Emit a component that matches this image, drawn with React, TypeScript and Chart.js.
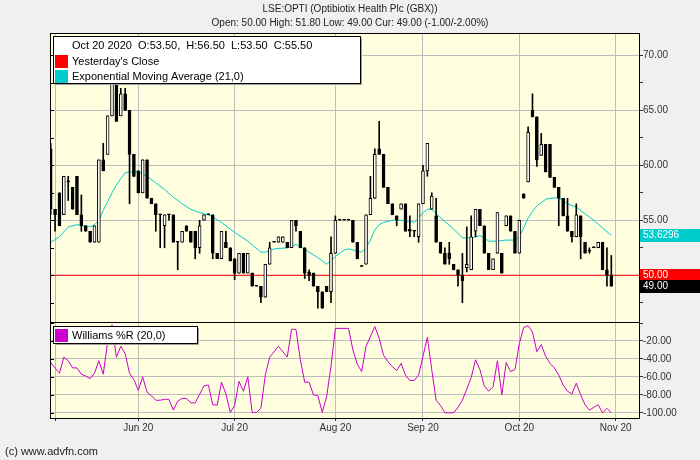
import React, { useEffect, useRef } from "react";
import { Chart, registerables } from "chart.js";

Chart.register(...registerables);

// ---------- DATA ----------
// candle index 0 = 30 Apr 2020 ... 128 = 30 Oct 2020 (trading days)
const opens = [
  61.5, 56, 57.5, 55.5, 58.5, 58, 59, 55.5, 54.5, 54, 53, 53, 60.5, 61, 64.5, 67.5, 64.5, 66.5, 65, 61,
  59.5, 57.5, 60.5, 57, 56.5, 55.5, 54.5, 55.5, 55.5, 53, 53, 54.5, 54, 54, 52.5, 55, 55.5, 55.5, 52, 51.5,
  53, 52.5, 51.5, 50.2, 52, 50.2, 50.2, 49, 49, 48, 51, 53, 53, 53, 53, 52.5, 55, 54, 52.5, 50.3,
  50.2, 49, 48.5, 49, 48.5, 52, 55, 55, 55, 55, 53, 50.8, 51, 55.5, 57, 61.5, 61, 58, 56.5, 55.4,
  56, 56.5, 54.2, 54, 53.5, 56.5, 59.5, 56, 55.4, 53, 52, 52, 51, 50.5, 50, 50.7, 50.5, 54, 56, 54.5,
  52, 50.5, 52, 52, 54.5, 55.4, 54, 52, 57.4, 58.5, 65, 64.4, 60.9, 61.9, 61.9, 58.9, 58, 57, 55.4, 54,
  53.5, 55.4, 53, 52.2, 52.5, 52.5, 53, 50.5, 50,
];
const highs = [
  62, 56, 57.5, 59, 59, 58, 59, 57.3, 54.5, 54, 54.5, 60.5, 62, 64.5, 68, 68.5, 67, 67, 65, 61,
  59.5, 60.5, 60.5, 57, 56.5, 55.5, 55.5, 55.5, 55.5, 53, 54, 54.5, 54, 54, 55, 55.5, 55.5, 55.5, 52, 54,
  54, 52.5, 51.5, 52, 52, 52, 50.2, 49, 49, 51, 53, 53, 53.5, 53.5, 53, 55, 55, 54, 52.5, 50.5,
  50.2, 49, 48.5, 49, 53.5, 55.4, 55, 55, 55, 55, 53, 50.8, 55.5, 59, 61.5, 64, 61, 58, 56.5, 55.4,
  56.5, 56.5, 55.4, 54, 56.5, 60, 62, 57.5, 57, 53, 52.5, 53, 51, 50.5, 52, 54.4, 55.4, 56, 56, 54.5,
  52, 51.5, 55.7, 52, 55.4, 55.4, 54, 55, 57.4, 63.5, 66.5, 64.4, 62.9, 61.9, 61.9, 58.9, 58, 57, 57, 54,
  56.5, 55.4, 53, 52.5, 52.5, 53, 53, 52.5, 51.8,
];
const lows = [
  55.5, 54, 54.5, 55.5, 56.8, 56, 55.5, 54, 54, 53, 53, 53, 59.5, 61, 64.5, 64, 64.5, 65, 56.5, 59,
  57.5, 57.5, 57, 56.5, 54, 52.5, 52.5, 55, 53, 50.5, 53, 54, 53, 51.5, 52, 55, 55.5, 51.5, 51.5, 51.5,
  52.5, 51.3, 49.6, 50.2, 50.2, 50.2, 49, 49, 47.5, 48, 51, 53, 53, 53, 52.5, 52.5, 54, 52.5, 49.7, 49.5,
  49, 47, 47, 48.5, 47.5, 52, 55, 55, 55, 53, 51.5, 50.8, 51, 55.5, 57, 61, 58, 56.5, 55.5, 54.5,
  56, 54, 53.5, 53.5, 53, 56.5, 59, 56, 53, 52, 51, 51, 50.5, 49, 47.5, 50.3, 50.5, 53.5, 54.5, 52,
  50.5, 50.5, 52, 50.2, 54.5, 54, 52, 52, 57, 58.5, 64.4, 59.9, 60.9, 59.4, 58.9, 58, 54.5, 55.4, 54, 53,
  53.5, 51.5, 52, 52, 52.5, 52.5, 50.5, 49, 49,
];
const closes = [
  56, 55.5, 54.5, 59, 58.5, 56, 55.5, 54.5, 54, 53, 54.5, 60.5, 59.5, 64.5, 67.5, 64, 66.5, 65, 61, 59,
  57.5, 60.5, 57, 56.5, 55.5, 55.5, 55.5, 55.5, 53, 53, 54, 54, 53, 52.5, 54.5, 55.5, 55.5, 52, 51.5, 54,
  52.5, 51.3, 50.2, 52, 50.2, 52, 49, 49, 48, 51, 52.5, 53, 53.5, 53.5, 52.5, 55, 54.5, 52.5, 50.2, 50,
  49, 48.5, 47, 48.5, 52, 55, 55, 55, 55, 53, 51.5, 50.8, 55.5, 57, 61, 61, 58, 56.5, 55.5, 55,
  56.5, 54, 54, 54, 56.5, 59.5, 62, 57.2, 53, 52, 51, 51.5, 50.5, 50, 49.5, 51, 53.5, 56, 54.5, 52,
  50.5, 51.5, 55.7, 50.2, 55.4, 54, 52, 55, 57, 63, 64.4, 60.5, 61.9, 59.4, 58.9, 58, 57, 55.4, 54, 53.5,
  55.5, 53.5, 52, 52.2, 52.5, 53, 50.5, 50, 49,
];

// Exponential Moving Average (21)
const emaIdx = [
  0, 2, 4, 6, 8, 9, 10, 11, 12, 13, 14, 15, 16, 17, 18, 20, 21, 22, 24, 26, 28, 30, 32, 34, 36, 37, 39,
  42, 45, 48, 49, 51, 54, 56, 57, 59, 61, 63, 64, 65, 67, 68, 70, 71, 72, 73, 74, 75, 76, 78, 80, 82,
  83, 84, 85, 86, 87, 88, 90, 92, 94, 96, 98, 99, 100, 102, 104, 106, 107, 108, 109, 110, 111, 112,
  113, 114, 116, 117, 118, 120, 122, 124, 126, 128,
];
const emaVal = [
  53.0, 53.5, 54.4, 54.6, 54.5, 54.4, 54.6, 55.0, 55.9, 56.7, 57.5, 58.2, 58.8, 59.3, 59.4, 59.4, 59.2,
  59.0, 58.4, 57.8, 57.1, 56.5, 56.0, 55.7, 55.5, 55.3, 54.8, 53.9, 53.1, 52.1, 52.1, 52.4, 52.5, 52.8,
  52.6, 52.1, 51.6, 51.0, 51.3, 51.7, 52.3, 52.4, 52.2, 52.1, 52.5, 53.2, 54.1, 54.6, 54.8, 55.0, 55.0,
  54.9, 54.8, 55.2, 55.7, 56.0, 56.0, 55.6, 54.9, 54.2, 53.4, 53.4, 53.6, 53.4, 53.1, 53.1, 53.2, 53.2,
  53.5, 54.3, 55.2, 55.8, 56.3, 56.6, 56.9, 57.0, 57.05, 56.8, 56.5, 56.2, 55.6, 55.0, 54.3, 53.63,
];

// Williams %R (20)
const wrIdx = [
  0, 2, 3, 4, 5, 6, 7, 8, 9, 10, 11, 12, 13, 14, 15, 16, 17, 18, 19, 20, 21, 22, 23, 24, 25, 26, 27, 28,
  29, 30, 31, 32, 33, 35, 36, 37, 38, 39, 40, 41, 42, 43, 44, 45, 46, 47, 48, 49, 50, 52, 54, 55, 56,
  57, 58, 59, 60, 61, 62, 63, 64, 65, 68, 69, 70, 71, 72, 74, 75, 76, 77, 78, 79, 80, 81, 82, 83, 84,
  86, 87, 88, 89, 90, 92, 93, 94, 96, 97, 98, 99, 100, 101, 102, 103, 104, 105, 106, 107, 108, 109,
  110, 111, 112, 113, 114, 115, 116, 117, 118, 119, 120, 121, 122, 123, 124, 125, 126, 127, 128,
];
const wrVal = [
  -44, -56, -38, -42, -50, -50, -57, -59, -62, -56, -42, -57, -21, -2, -38, -26, -34, -56, -63, -75, -60,
  -77, -81, -86, -86, -85, -85, -97, -87, -84, -84, -89, -89, -70, -69, -91, -91.5, -66, -79, -99.6, -92,
  -65, -76, -60, -99.6, -99.6, -95, -58, -38, -26, -38, -7, -7, -41, -66, -66, -80, -81, -99.6, -82, -48,
  -6, -6, -30, -46, -54, -26, -4, -17, -36, -43, -48.5, -53, -45, -58, -64, -64, -58, -16, -52, -86,
  -92, -100, -100, -94, -86, -61, -41, -52, -70, -76, -71, -42, -80, -44, -54, -52, -23, -5, -3, -10,
  -32, -24, -37, -45, -50, -58, -69, -76, -79, -67, -80, -91, -97, -94, -91, -100, -95, -100,
];

const monthIdx = [1, 20, 42, 65, 85, 107, 129];
const monthLabels = ["", "Jun 20", "Jul 20", "Aug 20", "Sep 20", "Oct 20", "Nov 20"];
const yesterdayClose = 50;
const lastPrice = 49;
const emaLast = 53.6296;
const wrLevels = [-10, -90];

const titleText = "LSE:OPTI (Optibiotix Health Plc (GBX))";
const subtitleText = "Open: 50.00 High: 51.80 Low: 49.00 Cur: 49.00 (-1.00/-2.00%)";
const hoverText = "Oct 20 2020  O:53.50,  H:56.50  L:53.50  C:55.50";
const legendMain = ["Yesterday's Close", "Exponential Moving Average (21,0)"];
const legendLow = "Williams %R (20,0)";
const footerText = "(c) www.advfn.com";

// ---------- STYLE ----------
const FONT = '"Liberation Sans", Arial, Helvetica, sans-serif';
const PLOT_BG = "#ffffe0";
const GRID = "#bdbdbd";
const TXT = "#333333";
const RED = "#ff0000";
const CYAN = "#00cccc";
const MAGENTA = "#cc00cc";
const X_MIN = 0.07;
const X_MAX = 134.32;

const framePlugin = {
  id: "frame",
  beforeDraw(chart: any) {
    const { ctx, chartArea: a } = chart;
    ctx.save();
    ctx.fillStyle = PLOT_BG;
    ctx.fillRect(a.left, a.top, a.right - a.left, a.bottom - a.top);
    ctx.restore();
  },
  afterDraw(chart: any) {
    const { ctx, chartArea: a } = chart;
    ctx.save();
    ctx.strokeStyle = "#000";
    ctx.lineWidth = 1;
    ctx.strokeRect(a.left - 0.5, a.top - 0.5, a.right - a.left + 1, a.bottom - a.top + 1);
    const ys = chart.scales.y;
    ctx.beginPath();
    ys.ticks.forEach((t: any) => {
      const py = Math.round(ys.getPixelForValue(t.value)) + 0.5;
      ctx.moveTo(a.left, py);
      ctx.lineTo(a.left + 3, py);
    });
    ctx.stroke();
    ctx.restore();
  },
};

function legendBox(ctx: CanvasRenderingContext2D, x: number, y: number, w: number, h: number) {
  ctx.fillStyle = "#ffffff";
  ctx.fillRect(x, y, w, h);
  ctx.strokeStyle = "#000";
  ctx.lineWidth = 1;
  ctx.strokeRect(x + 0.5, y + 0.5, w - 1, h - 1);
  ctx.strokeStyle = "#a0a0a0";
  ctx.beginPath();
  ctx.moveTo(x + w + 0.5, y + 2);
  ctx.lineTo(x + w + 0.5, y + h + 0.5);
  ctx.lineTo(x + 2, y + h + 0.5);
  ctx.stroke();
}

const mainDecor = {
  id: "mainDecor",
  afterDraw(chart: any) {
    const ctx: CanvasRenderingContext2D = chart.ctx;
    const ys = chart.scales.y;
    ctx.save();
    ctx.font = `10px ${FONT}`;
    ctx.fillStyle = "#222";
    ctx.textAlign = "center";
    ctx.textBaseline = "middle";
    ctx.fillText(titleText, 350, 9);
    ctx.fillText(subtitleText, 350, 23.5);

    legendBox(ctx, 53, 36, 308, 48);
    ctx.textAlign = "left";
    ctx.font = `11px ${FONT}`;
    ctx.fillStyle = "#000";
    ctx.fillText(hoverText, 72, 45.5);
    ctx.fillStyle = RED;
    ctx.fillRect(55, 55, 13, 13);
    ctx.fillStyle = CYAN;
    ctx.fillRect(55, 70, 13, 13);
    ctx.fillStyle = "#000";
    ctx.fillText(legendMain[0], 72, 62);
    ctx.fillText(legendMain[1], 72, 76.5);

    const boxes: [number, string, string][] = [
      [emaLast, CYAN, emaLast.toFixed(4)],
      [yesterdayClose, RED, yesterdayClose.toFixed(2)],
      [lastPrice, "#000000", lastPrice.toFixed(2)],
    ];
    ctx.font = `10px ${FONT}`;
    boxes.forEach(([v, col, label]) => {
      const py = Math.round(ys.getPixelForValue(v));
      ctx.fillStyle = col;
      ctx.fillRect(640, py - 6, 60, 13);
      ctx.fillStyle = "#ffffff";
      ctx.fillText(label, 643, py + 0.5);
    });
    ctx.restore();
  },
};

const lowDecor = {
  id: "lowDecor",
  afterDraw(chart: any) {
    const ctx: CanvasRenderingContext2D = chart.ctx;
    ctx.save();
    legendBox(ctx, 53, 326, 145, 18);
    ctx.fillStyle = MAGENTA;
    ctx.fillRect(55, 329, 13, 13);
    ctx.fillStyle = "#000";
    ctx.font = `11px ${FONT}`;
    ctx.textAlign = "left";
    ctx.textBaseline = "middle";
    ctx.fillText(legendLow, 72, 335.5);
    ctx.fillStyle = "#222";
    ctx.fillText(footerText, 5, 452);
    ctx.restore();
  },
};

function xScale(showLabels: boolean) {
  return {
    type: "linear",
    min: X_MIN,
    max: X_MAX,
    offset: false,
    afterBuildTicks(s: any) {
      s.ticks = monthIdx.map((v) => ({ value: v }));
    },
    afterFit(s: any) {
      s.height = showLabels ? 20 : 0;
    },
    border: { display: false },
    grid: {
      color: GRID,
      offset: false,
      drawTicks: showLabels,
      tickLength: 3,
      tickColor: "#333",
    },
    ticks: {
      display: showLabels,
      autoSkip: false,
      maxRotation: 0,
      padding: 1,
      color: TXT,
      font: { family: FONT, size: 10 },
      callback: (v: number) => {
        const i = monthIdx.indexOf(v);
        return i >= 0 ? monthLabels[i] : "";
      },
    },
  };
}

function mainConfig(): any {
  const bodies = opens.map((o, i) => ({ x: i, y: [Math.min(o, closes[i]), Math.max(o, closes[i])] }));
  const wicks = lows.map((l, i) => ({ x: i, y: [l, highs[i]] }));
  return {
    type: "bar",
    data: {
      datasets: [
        {
          type: "bar",
          label: "body",
          data: bodies,
          order: 1,
          grouped: false,
          barThickness: 3,
          minBarLength: 1,
          borderWidth: 1,
          borderSkipped: false,
          borderColor: "#000",
          backgroundColor: opens.map((o, i) => (closes[i] > o ? "#ffffff" : "#000000")),
        },
        {
          type: "bar",
          label: "wick",
          data: wicks,
          order: 2,
          grouped: false,
          barThickness: 1,
          minBarLength: 1,
          borderWidth: 0,
          backgroundColor: "#000000",
        },
        {
          type: "line",
          label: "ema",
          data: emaIdx.map((x, i) => ({ x, y: emaVal[i] })),
          order: 3,
          borderColor: CYAN,
          borderWidth: 1,
          pointRadius: 0,
          tension: 0,
        },
        {
          type: "line",
          label: "yclose",
          data: [
            { x: X_MIN, y: yesterdayClose },
            { x: X_MAX, y: yesterdayClose },
          ],
          order: 4,
          borderColor: RED,
          borderWidth: 1,
          pointRadius: 0,
        },
      ],
    },
    options: {
      animation: false,
      responsive: false,
      devicePixelRatio: 1,
      events: [],
      layout: { padding: { left: 51, top: 34, right: 0, bottom: 137 } },
      plugins: { legend: { display: false }, tooltip: { enabled: false }, title: { display: false } },
      scales: {
        x: xScale(false),
        y: {
          type: "linear",
          position: "right",
          min: 45.66,
          max: 71.94,
          afterFit(s: any) {
            s.width = 61;
          },
          border: { display: false },
          grid: {
            color: (c: any) => (c.tick && c.tick.value % 5 === 0 ? GRID : "rgba(0,0,0,0)"),
            tickColor: "#333",
            tickLength: 4,
          },
          ticks: {
            stepSize: 2.5,
            includeBounds: false,
            padding: 0,
            color: TXT,
            font: { family: FONT, size: 10 },
            callback: (v: number) => (v % 5 === 0 && v >= 55 ? v.toFixed(2) : ""),
          },
        },
      },
    },
    plugins: [framePlugin, mainDecor],
  };
}

function lowConfig(): any {
  return {
    type: "line",
    data: {
      datasets: [
        {
          label: "wr",
          data: wrIdx.map((x, i) => ({ x, y: wrVal[i] })),
          borderColor: MAGENTA,
          borderWidth: 1,
          pointRadius: 0,
          tension: 0,
        },
      ],
    },
    options: {
      animation: false,
      responsive: false,
      devicePixelRatio: 1,
      events: [],
      layout: { padding: { left: 51, top: 323, right: 0, bottom: 22 } },
      plugins: { legend: { display: false }, tooltip: { enabled: false } },
      scales: {
        x: xScale(true),
        y: {
          type: "linear",
          position: "right",
          min: -105.8,
          max: 0,
          afterFit(s: any) {
            s.width = 61;
          },
          border: { display: false },
          grid: {
            color: (c: any) => {
              const v = c.tick ? c.tick.value : 1;
              if (wrLevels.includes(v)) return "#000000";
              return v % 20 === 0 && v < 0 ? GRID : "rgba(0,0,0,0)";
            },
            tickColor: "#333",
            tickLength: 4,
          },
          ticks: {
            stepSize: 10,
            includeBounds: false,
            padding: 0,
            color: TXT,
            font: { family: FONT, size: 10 },
            callback: (v: number) => (v % 20 === 0 && v < 0 ? v.toFixed(2) : ""),
          },
        },
      },
    },
    plugins: [framePlugin, lowDecor],
  };
}

export default function App() {
  const mainRef = useRef<HTMLCanvasElement>(null);
  const lowRef = useRef<HTMLCanvasElement>(null);
  useEffect(() => {
    const main = new Chart(mainRef.current as HTMLCanvasElement, mainConfig());
    const low = new Chart(lowRef.current as HTMLCanvasElement, lowConfig());
    return () => {
      main.destroy();
      low.destroy();
    };
  }, []);
  const cs: React.CSSProperties = { position: "absolute", left: 0, top: 0, width: 700, height: 460 };
  return (
    <div
      style={{
        position: "absolute",
        left: 0,
        top: 0,
        width: 700,
        height: 460,
        background: "#f0f0f0",
        overflow: "hidden",
      }}
    >
      <canvas ref={mainRef} width={700} height={460} style={cs} />
      <canvas ref={lowRef} width={700} height={460} style={cs} />
    </div>
  );
}
